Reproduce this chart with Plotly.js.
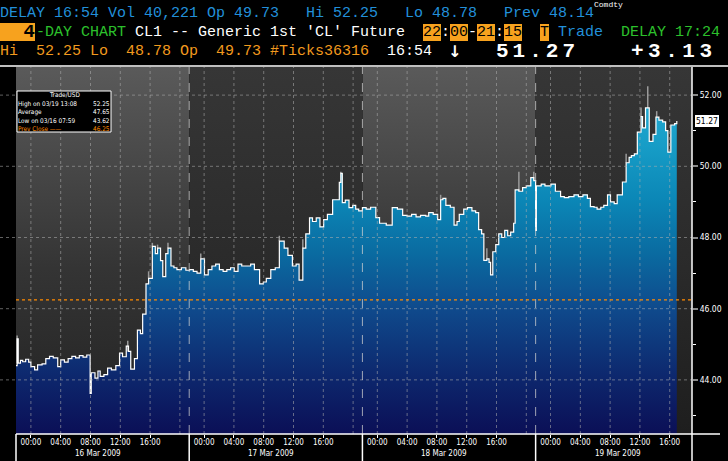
<!DOCTYPE html>
<html>
<head>
<meta charset="utf-8">
<script src="https://cdn.plot.ly/plotly-3.0.1.min.js"></script>
<style>
html,body{margin:0;padding:0;background:#000;}
#chart{width:728px;height:461px;}
</style>
</head>
<body>
<div id="chart"></div>
<script>
// ---------------- DATA ----------------
// session hours since 22:00 of the previous day; four 23.25h sessions concatenated
const sessionLength = 23.25;
const dayStarts = [0, 23.25, 46.5, 69.75];
const dayLabels = ['16 Mar 2009', '17 Mar 2009', '18 Mar 2009', '19 Mar 2009'];
const hourTickOffsets = [2, 6, 10, 14, 18];
const hourTickLabels = ['00:00', '04:00', '08:00', '12:00', '16:00'];
const gridOffsets = [2, 6, 10, 14, 18, 22];
const priceTicks = [44, 46, 48, 50, 52];
const minorPriceTicks = [43, 45, 47, 49, 51];

const times = [
 0.0, 0.15, 0.3, 0.6, 0.9, 1.3, 1.7, 2.0, 2.5, 2.9, 3.5, 4.0, 4.5, 5.0, 5.6, 6.0, 6.5, 7.0, 7.5, 8.0, 8.5, 9.0, 9.5, 9.95, 10.1, 10.6, 11.0, 11.3, 11.8, 12.3, 12.8, 13.4, 13.9, 14.3, 14.8, 15.1, 15.4, 15.9, 16.3, 16.7, 17.0, 17.45, 17.8, 18.3, 18.7, 19.0, 19.4, 19.7, 20.1, 20.4, 20.8, 21.2, 21.6, 22.2, 22.8, 23.3,
 23.8, 24.3, 24.8, 25.3, 25.8, 26.3, 26.8, 27.3, 27.8, 28.3, 28.8, 29.3, 29.8, 30.3, 30.9, 31.5, 32.0, 32.7, 33.2, 33.6, 34.2, 34.8, 35.35, 36.0, 36.5, 37.1, 37.6, 38.0, 38.5, 38.9, 39.4, 39.8, 40.3, 40.8, 41.3, 41.8, 42.5, 43.4, 43.6, 43.8, 44.2, 44.7, 45.2, 45.6, 46.0, 46.5,
 47.0, 47.6, 48.3, 48.8, 49.2, 49.7, 50.5, 51.2, 51.9, 52.5, 53.1, 53.7, 54.3, 55.0, 55.4, 56.0, 56.6, 57.0, 57.3, 57.7, 58.3, 58.8, 59.2, 59.5, 60.1, 60.6, 61.2, 61.7, 62.1, 62.5, 62.8, 63.2, 63.5, 63.7, 64.0, 64.4, 64.8, 65.2, 65.6, 66.0, 66.4, 66.8, 67.0, 67.5, 68.0, 68.5, 69.1, 69.5, 69.75, 69.85,
 70.5, 71.0, 71.8, 72.4, 73.1, 73.6, 74.2, 74.9, 75.5, 76.1, 76.7, 77.1, 77.6, 78.0, 78.5, 78.9, 79.4, 79.8, 80.3, 80.7, 81.4, 81.9, 82.3, 82.6, 83.0, 83.4, 83.9, 84.1, 84.5, 85.0, 85.5, 85.9, 86.3, 86.8, 87.2, 87.5, 87.9, 88.4, 88.7
];
const prices = [
 44.40, 45.15, 44.47, 44.55, 44.51, 44.58, 44.50, 44.37, 44.28, 44.42, 44.45, 44.60, 44.66, 44.62, 44.37, 44.56, 44.50, 44.60, 44.66, 44.62, 44.68, 44.64, 44.70, 43.62, 44.20, 44.05, 44.25, 44.10, 44.15, 44.33, 44.28, 44.40, 44.75, 44.65, 44.95, 44.80, 44.30, 44.60, 45.40, 45.30, 45.85, 46.70, 46.85, 47.75, 47.55, 47.70, 47.35, 46.90, 47.55, 47.70, 47.20, 47.15, 47.10, 47.15, 47.08, 47.10,
 47.05, 47.00, 47.40, 46.95, 47.10, 47.20, 47.25, 47.10, 47.05, 47.10, 47.15, 47.05, 47.25, 47.20, 47.20, 47.25, 47.10, 46.70, 46.75, 46.85, 47.10, 47.15, 47.90, 47.70, 47.50, 47.20, 47.25, 46.80, 47.70, 48.10, 48.55, 48.45, 48.55, 48.30, 48.50, 48.65, 49.06, 49.55, 49.80, 48.98, 49.05, 48.84, 48.90, 48.80, 48.75, 48.84,
 48.80, 48.85, 48.56, 48.40, 48.40, 48.35, 48.84, 48.80, 48.62, 48.60, 48.65, 48.58, 48.62, 48.60, 48.70, 48.65, 48.50, 49.06, 49.10, 48.90, 48.85, 48.35, 48.45, 48.65, 48.80, 48.84, 48.75, 48.70, 48.22, 48.10, 47.36, 47.40, 47.30, 46.95, 47.60, 47.80, 48.10, 48.00, 48.20, 48.05, 48.15, 48.40, 49.34, 49.30, 49.40, 49.45, 49.68, 49.60, 48.20, 49.45,
 49.50, 49.45, 49.50, 49.30, 49.15, 49.12, 49.15, 49.20, 49.15, 49.20, 49.10, 48.87, 48.85, 48.80, 48.85, 48.90, 49.20, 49.00, 48.95, 49.20, 49.56, 50.10, 50.25, 50.30, 50.35, 50.96, 51.40, 51.08, 51.64, 50.70, 50.90, 51.38, 51.30, 51.25, 51.00, 50.40, 51.16, 51.20, 51.27
];
// high wicks (gray)
const wickTimes = [0.15, 15.0, 17.8, 18.3, 19.0, 20.4, 24.8, 35.35, 38.5, 43.6, 57.0, 63.2, 67.5, 69.5, 81.9, 83.9, 84.8, 86.0];
const wickLows  = [44.47, 44.80, 46.85, 47.75, 47.70, 47.70, 47.40, 47.90, 47.70, 49.80, 49.06, 47.40, 49.30, 49.60, 50.10, 51.40, 51.64, 51.38];
const wickHighs = [45.25, 45.10, 47.05, 47.85, 47.80, 47.85, 47.55, 48.05, 47.95, 49.85, 49.20, 47.70, 49.85, 49.85, 50.35, 51.65, 52.25, 51.55];

const statLabels = ['High on 03/19 13:08', 'Average', 'Low on 03/16 07:59', 'Prev Close \u2014\u2014'];
const statValues = [52.25, 47.65, 43.62, 46.25];
const prevClose = 46.25;

// ---------------- LAYOUT HELPERS ----------------
const L = 16, R = 692, T = 67, B = 434;
const PX = x => (x - L) / (R - L);
const PY = y => (B - y) / (B - T);
const xRange = [0, 90.74];
const yRange = [42.48, 52.79];

const mono = 'Liberation Mono, DejaVu Sans Mono, monospace';
const narrow = 'Liberation Sans Narrow, DejaVu Sans Condensed, Liberation Sans, Arial, sans-serif';
const CW = 9;
const BLUE = '#2290da', GREEN = '#2cc02c', ORANGE = '#f7a21e', OTXT = '#f29a1e';

// ---------------- TRACES ----------------
const fillTrace = {
  x: times, y: prices, type: 'scatter', mode: 'lines',
  line: {shape: 'hv', width: 0, color: 'rgba(0,0,0,0)'},
  fill: 'tozeroy',
  fillgradient: {
    type: 'vertical', start: yRange[0], stop: yRange[1],
    colorscale: [[0, '#0b0f56'], [0.148, '#0d266c'], [0.342, '#0f4a8c'], [0.488, '#0a6aa0'], [0.634, '#0b86b6'], [0.78, '#169cc6'], [1, '#2cb4da']]
  },
  hoverinfo: 'skip', showlegend: false
};
const wickTrace = {
  x: wickTimes, y: wickLows, type: 'scatter', mode: 'markers',
  marker: {size: 1, color: 'rgba(0,0,0,0)'},
  error_y: {type: 'data', symmetric: false, array: wickHighs.map((h, i) => h - wickLows[i]), arrayminus: wickLows.map(() => 0), color: '#9a9a9a', thickness: 1.5, width: 0},
  hoverinfo: 'skip', showlegend: false
};
const lineTrace = {
  x: times, y: prices, type: 'scatter', mode: 'lines',
  line: {shape: 'hv', width: 1.2, color: '#ffffff'},
  hoverinfo: 'skip', showlegend: false
};

// ---------------- BACKGROUND IMAGES (alternating day shading) ----------------
function gradSvg(c0, c1, c2) {
  const s = "<svg xmlns='http://www.w3.org/2000/svg' width='10' height='100' preserveAspectRatio='none'>" +
    "<defs><linearGradient id='g' x1='0' y1='0' x2='0' y2='1'>" +
    "<stop offset='0' stop-color='" + c0 + "'/><stop offset='0.55' stop-color='" + c1 + "'/><stop offset='1' stop-color='" + c2 + "'/>" +
    "</linearGradient></defs><rect width='10' height='100' fill='url(#g)'/></svg>";
  return 'data:image/svg+xml;charset=utf-8,' + encodeURIComponent(s);
}
const lightBg = gradSvg('#5a5a5a', '#343434', '#222222');
const darkBg = gradSvg('#363636', '#2a2a2a', '#1e1e1e');
const images = dayStarts.map((d, i) => ({
  source: i % 2 === 0 ? lightBg : darkBg,
  xref: 'x', yref: 'paper', x: d, y: 1, sizex: sessionLength, sizey: 1,
  xanchor: 'left', yanchor: 'top', sizing: 'stretch', layer: 'below'
}));

// ---------------- SHAPES ----------------
const shapes = [];
const gridColor = 'rgba(175,175,175,0.55)';
priceTicks.forEach(v => shapes.push({type: 'line', xref: 'paper', yref: 'y', x0: PX(0), x1: 1, y0: v, y1: v,
  line: {color: gridColor, width: 1, dash: 'dot'}, layer: 'above'}));
dayStarts.forEach(d => gridOffsets.forEach(o => {
  const xv = d + o;
  if (xv < xRange[1]) shapes.push({type: 'line', xref: 'x', yref: 'paper', x0: xv, x1: xv, y0: 0, y1: 1,
    line: {color: gridColor, width: 1, dash: 'dot'}, layer: 'above'});
}));
dayStarts.slice(1).forEach(d => {
  shapes.push({type: 'line', xref: 'x', yref: 'paper', x0: d, x1: d, y0: 0, y1: 1,
    line: {color: 'rgba(210,210,210,0.75)', width: 1, dash: 'dash'}, layer: 'above'});
  shapes.push({type: 'line', xref: 'x', yref: 'paper', x0: d, x1: d, y0: PY(461), y1: 0,
    line: {color: '#ffffff', width: 1.5}});
});
// prev close
shapes.push({type: 'line', xref: 'paper', yref: 'y', x0: 0, x1: 1, y0: prevClose, y1: prevClose,
  line: {color: '#ff8a00', width: 1.2, dash: 'dot'}, layer: 'above'});
// frame lines
shapes.push({type: 'line', xref: 'paper', yref: 'paper', x0: PX(0), x1: PX(728), y0: PY(66), y1: PY(66), line: {color: '#ffffff', width: 1.5}});
shapes.push({type: 'line', xref: 'paper', yref: 'paper', x0: 0, x1: PX(720), y0: 0, y1: 0, line: {color: '#ffffff', width: 1.5}});
shapes.push({type: 'line', xref: 'paper', yref: 'paper', x0: 1, x1: 1, y0: PY(461), y1: 1, line: {color: '#ffffff', width: 1.5}});
shapes.push({type: 'line', xref: 'paper', yref: 'paper', x0: 0, x1: 0, y0: PY(461), y1: 0, line: {color: '#ffffff', width: 1.5}});
// stats box
shapes.push({type: 'rect', xref: 'paper', yref: 'paper', x0: PX(17), x1: PX(111), y0: PY(132), y1: PY(91),
  fillcolor: '#000000', line: {color: '#ffffff', width: 1}, layer: 'above'});

// ---------------- ANNOTATIONS ----------------
const ann = [];
function hdr(text, col, yc, color, bg, extra) {
  ann.push(Object.assign({
    text: text, xref: 'paper', yref: 'paper', x: PX(col * CW), y: PY(yc),
    xanchor: 'left', yanchor: 'middle', showarrow: false,
    font: {family: mono, size: 15, color: color},
    bgcolor: bg || 'rgba(0,0,0,0)', borderpad: 0, borderwidth: 0
  }, extra || {}));
}
const nb = s => s.replace(/ /g, '\u00a0');
// top line (mostly off-screen in the original)
hdr('Comdty', 66, 4, '#ffffff', null, {font: {family: mono, size: 8, color: '#ffffff'}});
// row 1
hdr(nb('DELAY 16:54 Vol 40,221 Op 49.73   Hi 52.25   Lo 48.78   Prev 48.14'), 0, 14, BLUE);
// row 2
ann.push({text: '<b>4</b>', xref: 'paper', yref: 'paper', x: PX(0), y: PY(32), xanchor: 'left', yanchor: 'middle',
  showarrow: false, font: {family: mono, size: 19, color: '#000000'}, bgcolor: ORANGE, borderpad: 0, borderwidth: 0,
  width: 35, height: 18, align: 'right'});
hdr('-DAY CHART', 4, 32, GREEN);
hdr(nb("CL1 -- Generic 1st 'CL' Future"), 15, 32, '#ffffff');
hdr('22', 47, 32, '#000000', ORANGE);
hdr(':', 49, 32, '#ffffff');
hdr('00', 50, 32, '#000000', ORANGE);
hdr('-', 52, 32, '#ffffff');
hdr('21', 53, 32, '#000000', ORANGE);
hdr(':', 55, 32, '#ffffff');
hdr('15', 56, 32, '#000000', ORANGE);
hdr('T', 60, 32, '#000000', ORANGE);
hdr('Trade', 62, 32, BLUE);
hdr(nb('DELAY 17:24'), 69, 32, GREEN);
// row 3
hdr(nb('Hi  52.25 Lo  48.78 Op  49.73 #Ticks36316'), 0, 52, OTXT);
hdr('16:54', 43, 52, '#ffffff');
ann.push({text: '<b>\u2193</b>', xref: 'paper', yref: 'paper', x: PX(446), y: PY(52), xanchor: 'left', yanchor: 'middle',
  showarrow: false, font: {family: 'DejaVu Sans, sans-serif', size: 16, color: '#ffffff'}});
ann.push({text: "<b><span style='letter-spacing:4px'>" + prices[prices.length - 1].toFixed(2) + "</span></b>", xref: 'paper', yref: 'paper',
  x: PX(494), y: PY(52), xanchor: 'left', yanchor: 'middle', showarrow: false,
  font: {family: mono, size: 21, color: '#ffffff'}});
ann.push({text: "<b><span style='letter-spacing:4.5px'>+3.13</span></b>", xref: 'paper', yref: 'paper',
  x: PX(629), y: PY(52), xanchor: 'left', yanchor: 'middle', showarrow: false,
  font: {family: mono, size: 21, color: '#ffffff'}});

// stats box text (one multi-line text per column)
const statFont = 6.4;
ann.push({text: 'Trade/USD', xref: 'paper', yref: 'paper', x: PX(64), y: PY(94.5), xanchor: 'center', yanchor: 'middle',
  showarrow: false, font: {family: narrow, size: statFont, color: '#ffffff'}, borderpad: 0, borderwidth: 0});
const colorLine = (s, i) => i === 3 ? "<span style='color:#ff8a00'>" + s + "</span>" : s;
ann.push({text: statLabels.map(colorLine).join('<br>'), xref: 'paper', yref: 'paper', x: PX(18), y: PY(99.5), xanchor: 'left', yanchor: 'top',
  align: 'left', showarrow: false, font: {family: narrow, size: statFont, color: '#ffffff'}, borderpad: 0, borderwidth: 0});
ann.push({text: statValues.map(v => v.toFixed(2)).map(colorLine).join('<br>'), xref: 'paper', yref: 'paper', x: PX(110), y: PY(99.5), xanchor: 'right', yanchor: 'top',
  align: 'right', showarrow: false, font: {family: narrow, size: statFont, color: '#ffffff'}, borderpad: 0, borderwidth: 0});

// day labels
dayStarts.forEach((d, i) => ann.push({text: dayLabels[i], xref: 'x', yref: 'paper', x: d + 11, y: PY(453),
  xanchor: 'center', yanchor: 'middle', showarrow: false, font: {family: narrow, size: 8, color: '#ffffff'}}));

// last price tag
ann.push({text: prices[prices.length - 1].toFixed(2), xref: 'paper', yref: 'y', x: 1, xshift: 3, y: prices[prices.length - 1],
  xanchor: 'left', yanchor: 'middle', showarrow: false, font: {family: narrow, size: 8.5, color: '#000000'},
  bgcolor: '#ffffff', borderpad: 1, borderwidth: 0});

// ---------------- AXES ----------------
const xTickVals = [], xTickText = [];
dayStarts.forEach(d => hourTickOffsets.forEach((o, k) => { xTickVals.push(d + o); xTickText.push(hourTickLabels[k]); }));

const layout = {
  width: 728, height: 461,
  margin: {l: L, r: 728 - R, t: T, b: 461 - B, pad: 0},
  paper_bgcolor: '#000000', plot_bgcolor: '#1c1c1c',
  showlegend: false,
  xaxis: {
    range: xRange, tickmode: 'array', tickvals: xTickVals, ticktext: xTickText,
    ticks: 'outside', ticklen: 3, tickwidth: 1, tickcolor: '#ffffff', ticklabelstandoff: -3,
    tickfont: {family: narrow, size: 8, color: '#ffffff'},
    showgrid: false, zeroline: false, showline: false, fixedrange: true
  },
  yaxis: {
    range: yRange, side: 'right', tickmode: 'array', tickvals: priceTicks, tickformat: '.2f',
    ticks: 'outside', ticklen: 5, tickwidth: 2, tickcolor: '#8a8a8a',
    tickfont: {family: narrow, size: 8.5, color: '#ffffff'},
    minor: {tickmode: 'array', tickvals: minorPriceTicks, ticks: 'outside', ticklen: 3, tickwidth: 1, tickcolor: '#ffffff', showgrid: false},
    showgrid: false, zeroline: false, showline: false, fixedrange: true
  },
  images: images,
  shapes: shapes,
  annotations: ann
};

Plotly.newPlot('chart', [fillTrace, wickTrace, lineTrace], layout, {staticPlot: true, displayModeBar: false});
</script>
</body>
</html>
